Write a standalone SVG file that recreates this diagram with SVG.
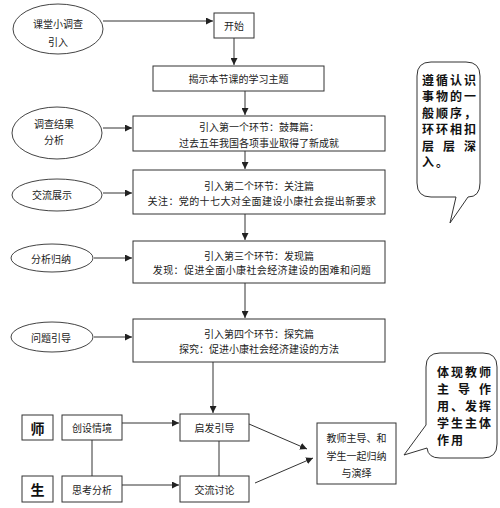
<svg xmlns="http://www.w3.org/2000/svg" width="500" height="508" viewBox="0 0 500 508">
<defs>
<marker id="ah" viewBox="0 0 10 10" refX="10" refY="5" markerWidth="7" markerHeight="7" orient="auto" markerUnits="userSpaceOnUse">
<path d="M0,0 L10,5 L0,10 Z" fill="#222"/>
</marker>
<style>
.bx{fill:#fff;stroke:#333;stroke-width:1}
.el{fill:#fff;stroke:#444;stroke-width:1}
.t{font-family:"Noto Sans CJK SC","Noto Sans",sans-serif;font-size:10px;fill:#222;text-anchor:middle;dominant-baseline:central}
.tb{font-family:"Noto Sans CJK SC","Noto Sans",sans-serif;font-size:14px;font-weight:bold;fill:#111;text-anchor:middle;dominant-baseline:central}
.cl{font-family:"Noto Sans CJK SC","Noto Sans",sans-serif;font-size:12px;font-weight:bold;fill:#111;dominant-baseline:central;letter-spacing:2px}
.sp{letter-spacing:9px}
.ln{fill:none;stroke:#333;stroke-width:1}
.ar{fill:none;stroke:#333;stroke-width:1;marker-end:url(#ah)}
</style>
</defs>
<rect width="500" height="508" fill="#fff"/>

<g id="connectors">
<line class="ar" x1="103" y1="21" x2="213" y2="21"/>
<line class="ar" x1="234" y1="38" x2="234" y2="65"/>
<line class="ar" x1="245" y1="91" x2="245" y2="115"/>
<line class="ar" x1="103" y1="128" x2="132" y2="128"/>
<line class="ar" x1="245" y1="151" x2="245" y2="169"/>
<line class="ar" x1="103" y1="193" x2="132" y2="193"/>
<line class="ar" x1="245" y1="214" x2="245" y2="240"/>
<line class="ar" x1="94" y1="258" x2="132" y2="258"/>
<line class="ar" x1="245" y1="283" x2="245" y2="318"/>
<line class="ar" x1="94" y1="337" x2="132" y2="337"/>
<line class="ar" x1="213" y1="362" x2="213" y2="413"/>
<line class="ar" x1="122" y1="423" x2="179" y2="423"/>
<line class="ar" x1="122" y1="485" x2="179" y2="485"/>
<line class="ln" x1="92" y1="440" x2="92" y2="476"/>
<line class="ln" x1="219" y1="441" x2="219" y2="476"/>
<line class="ar" x1="249" y1="424" x2="307" y2="449"/>
<line class="ar" x1="255" y1="483" x2="313" y2="458"/>
</g>

<g id="n-ketang">
<ellipse class="el" cx="58" cy="29" rx="45" ry="25"/>
<text class="t" x="58" y="23">课堂小调查</text>
<text class="t" x="58" y="41">引入</text>
</g>
<g id="n-start">
<rect class="bx" x="214" y="13" width="40" height="25"/>
<text class="t" x="234" y="25.5">开始</text>
</g>
<g id="n-theme">
<rect class="bx" x="153" y="66" width="171" height="25"/>
<text class="t" x="238.5" y="78.5">揭示本节课的学习主题</text>
</g>

<g id="n-jieguo">
<ellipse class="el" cx="57" cy="133" rx="45" ry="26"/>
<text class="t" x="54" y="123">调查结果</text>
<text class="t" x="54" y="139">分析</text>
</g>
<g id="n-step1">
<rect class="bx" x="133" y="116" width="252" height="35"/>
<text class="t" x="259" y="126.5">引入第一个环节：鼓舞篇：</text>
<text class="t" x="259" y="142">过去五年我国各项事业取得了新成就</text>
</g>

<g id="n-jiaoliu">
<ellipse class="el" cx="57" cy="195" rx="45" ry="16"/>
<text class="t" x="52" y="194">交流展示</text>
</g>
<g id="n-step2">
<rect class="bx" x="133" y="170" width="252" height="44"/>
<text class="t" x="259" y="185">引入第二个环节：关注篇</text>
<text class="t" x="262" y="200" style="letter-spacing:0.4px">关注：党的十七大对全面建设小康社会提出新要求</text>
</g>

<g id="n-fenxi">
<ellipse class="el" cx="52" cy="258" rx="41" ry="14"/>
<text class="t" x="51" y="258">分析归纳</text>
</g>
<g id="n-step3">
<rect class="bx" x="133" y="241" width="252" height="42"/>
<text class="t" x="259" y="255">引入第三个环节：发现篇</text>
<text class="t" x="262" y="269" style="letter-spacing:0.4px">发现：促进全面小康社会经济建设的困难和问题</text>
</g>

<g id="n-wenti">
<ellipse class="el" cx="52" cy="337" rx="41" ry="15"/>
<text class="t" x="51" y="337">问题引导</text>
</g>
<g id="n-step4">
<rect class="bx" x="133" y="319" width="252" height="43"/>
<text class="t" x="259" y="333">引入第四个环节：探究篇</text>
<text class="t" x="259" y="348">探究：促进小康社会经济建设的方法</text>
</g>

<g id="n-shi">
<rect class="bx" x="22" y="415" width="31" height="25"/>
<text class="tb" x="37.5" y="427.5">师</text>
</g>
<g id="n-sheng">
<rect class="bx" x="22" y="476" width="31" height="26"/>
<text class="tb" x="37.5" y="489">生</text>
</g>
<g id="n-chuangshe">
<rect class="bx" x="62" y="415" width="60" height="25"/>
<text class="t" x="92" y="427.5">创设情境</text>
</g>
<g id="n-sikao">
<rect class="bx" x="62" y="476" width="60" height="26"/>
<text class="t" x="92" y="489">思考分析</text>
</g>
<g id="n-qifa">
<rect class="bx" x="180" y="414" width="69" height="27"/>
<text class="t" x="214.5" y="427.5">启发引导</text>
</g>
<g id="n-taolun">
<rect class="bx" x="180" y="476" width="69" height="26"/>
<text class="t" x="214.5" y="489">交流讨论</text>
</g>
<g id="n-summary">
<rect class="bx" x="317" y="423" width="79" height="61"/>
<text class="t" x="356.5" y="437">教师主导、和</text>
<text class="t" x="356.5" y="455">学生一起归纳</text>
<text class="t" x="356.5" y="472">与演绎</text>
</g>

<g id="callout1">
<path class="bx" d="M431,62 H466 Q480,62 480,76 V183 Q480,197 468,197 L450,223 L456,197 H431 Q417,197 417,183 V76 Q417,62 431,62 Z"/>
<text class="cl" x="422" y="79">遵循认识</text>
<text class="cl" x="422" y="95.5">事物的一</text>
<text class="cl" x="422" y="112">般顺序，</text>
<text class="cl" x="422" y="128.5">环环相扣</text>
<text class="cl sp" x="422" y="145">层层深</text>
<text class="cl" x="422" y="161.5">入。</text>
</g>

<g id="callout2">
<path class="bx" d="M440,353 H483 Q497,353 497,367 V444 Q497,458 483,458 H440 Q428,458 427,448 L404,455 L426,425 V367 Q426,353 440,353 Z"/>
<text class="cl" x="437" y="371">体现教师</text>
<text class="cl sp" x="437" y="388">主导作</text>
<text class="cl" x="437" y="405">用、发挥</text>
<text class="cl" x="437" y="422">学生主体</text>
<text class="cl" x="437" y="439">作用</text>
</g>
</svg>
